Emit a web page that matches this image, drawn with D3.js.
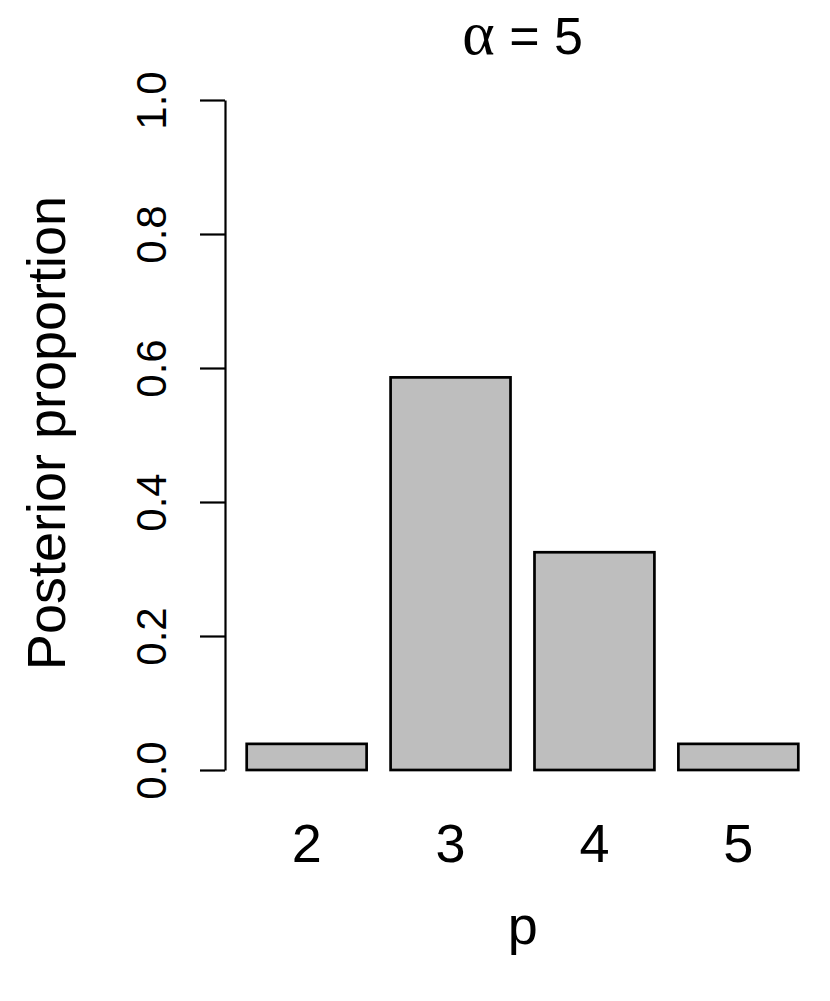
<!DOCTYPE html>
<html lang="en">
<head>
    <meta charset="UTF-8">
    <script src="https://d3js.org/d3.v7.min.js"></script>
    <title>Posterior proportion</title>
    <style>
        body { margin: 0; background: #fff; }
        text { font-family: "Liberation Sans", Arial, Helvetica, sans-serif; fill: #000; }
    </style>
</head>
<body>
    <script>
        // values
        const categories = ["2", "3", "4", "5"];
        const proportions = [0.039, 0.586, 0.325, 0.039];
        const yTicks = [0, 0.2, 0.4, 0.6, 0.8, 1.0];

        const width = 830, height = 1001;

        const svg = d3.select("body").append("svg")
            .attr("width", width)
            .attr("height", height);

        // R style plot region: x from 224.6 to 820.8, y with 4% expansion
        const y = d3.scaleLinear()
            .domain([0, 1])
            .range([770, 100]);

        const x = d3.scaleBand()
            .domain(categories)
            .range([246.7, 798.3])
            .paddingInner(1 / 6)
            .paddingOuter(0);

        // bars
        svg.selectAll("rect.bar")
            .data(proportions)
            .enter().append("rect")
            .attr("class", "bar")
            .attr("x", (d, i) => x(categories[i]))
            .attr("y", d => y(d))
            .attr("width", x.bandwidth())
            .attr("height", d => y(0) - y(d))
            .attr("fill", "#bebebe")
            .attr("stroke", "#000")
            .attr("stroke-width", 2.7);

        // y axis
        const yAxis = d3.axisLeft(y)
            .tickValues(yTicks)
            .tickFormat(d3.format(".1f"))
            .tickSize(25)
            .tickSizeOuter(0)
            .tickPadding(0);

        const gy = svg.append("g")
            .attr("transform", "translate(225,0)")
            .call(yAxis);

        gy.select(".domain").attr("stroke", "#000").attr("stroke-width", 2.2);
        gy.selectAll(".tick line").attr("stroke", "#000").attr("stroke-width", 2.2);
        gy.selectAll(".tick text")
            .attr("x", null)
            .attr("dy", null)
            .attr("transform", "translate(-59,0) rotate(-90)")
            .attr("text-anchor", "middle")
            .attr("font-size", 42)
            .style("font-family", '"Liberation Sans", Arial, sans-serif');

        // category labels under the bars
        svg.selectAll("text.cat")
            .data(categories)
            .enter().append("text")
            .attr("class", "cat")
            .attr("x", d => x(d) + x.bandwidth() / 2)
            .attr("y", 862)
            .attr("text-anchor", "middle")
            .attr("font-size", 54)
            .text(d => d);

        // axis titles
        svg.append("text")
            .attr("transform", "translate(65,433) rotate(-90)")
            .attr("text-anchor", "middle")
            .attr("font-size", 54)
            .text("Posterior proportion");

        svg.append("text")
            .attr("x", 522.7)
            .attr("y", 944)
            .attr("text-anchor", "middle")
            .attr("font-size", 54)
            .text("p");

        // main title
        const title = svg.append("text")
            .attr("x", 522.7)
            .attr("y", 54)
            .attr("text-anchor", "middle")
            .attr("font-size", 52);
        title.append("tspan")
            .style("font-family", '"Liberation Serif", "DejaVu Serif", serif')
            .attr("font-size", 62)
            .text("α");
        title.append("tspan").text(" = 5");
    </script>
</body>
</html>
